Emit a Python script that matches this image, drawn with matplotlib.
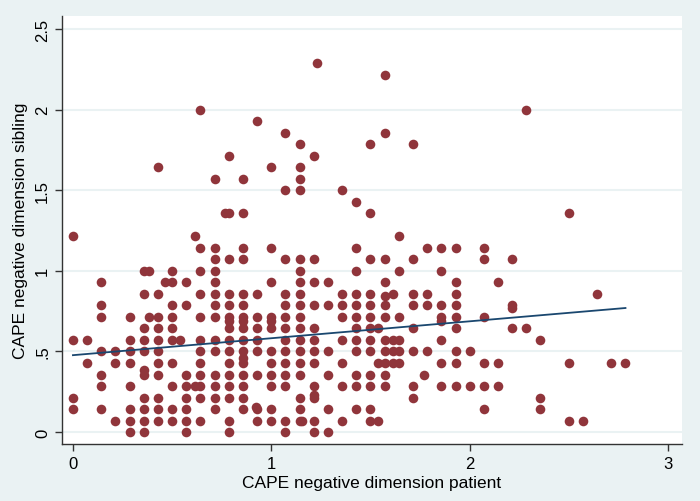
import numpy as np
import matplotlib
matplotlib.use("Agg")
import matplotlib.pyplot as plt

# CAPE negative dimension scores
patient = ([0.0]*4 + [0.071]*2 + [0.143]*7 + [0.214]*3 + [0.286]*8
           + [0.357]*11 + [0.385]*2 + [0.429]*11 + [0.462]*1 + [0.5]*10
           + [0.538]*1 + [0.571]*8 + [0.615]*2 + [0.643]*12 + [0.714]*14
           + [0.769]*1 + [0.786]*16 + [0.857]*17 + [0.923]*1 + [0.929]*9
           + [1.0]*12 + [1.071]*14 + [1.143]*18 + [1.154]*1 + [1.214]*13
           + [1.231]*1 + [1.286]*6 + [1.357]*8 + [1.429]*12 + [1.5]*13
           + [1.538]*3 + [1.571]*12 + [1.615]*4 + [1.643]*6 + [1.714]*8
           + [1.769]*1 + [1.786]*4 + [1.857]*8 + [1.929]*9 + [2.0]*2
           + [2.071]*6 + [2.143]*3 + [2.214]*4 + [2.286]*2 + [2.357]*3
           + [2.5]*3 + [2.571]*1 + [2.643]*1 + [2.714]*1 + [2.786]*1)

sibling = [
    1.214, 0.571, 0.214, 0.143,
    0.571, 0.429,
    0.929, 0.786, 0.714, 0.5, 0.357, 0.286, 0.143,
    0.5, 0.429, 0.071,
    0.714, 0.571, 0.5, 0.429, 0.286, 0.143, 0.071, 0.0,
    1.0, 0.857, 0.643, 0.571, 0.5, 0.385, 0.357, 0.214, 0.143, 0.071, 0.0,
    1.0, 0.714,
    1.643, 0.857, 0.714, 0.643, 0.571, 0.5, 0.429, 0.357, 0.214, 0.143, 0.071,
    0.929,
    1.0, 0.929, 0.786, 0.714, 0.643, 0.571, 0.429, 0.286, 0.143, 0.071,
    0.571,
    0.929, 0.786, 0.357, 0.286, 0.214, 0.143, 0.071, 0.0,
    1.214, 0.286,
    2.0, 1.143, 1.0, 0.857, 0.714, 0.571, 0.5, 0.429, 0.357, 0.286, 0.214, 0.071,
    1.571, 1.143, 1.071, 1.0, 0.929, 0.857, 0.786, 0.714, 0.571, 0.5, 0.357, 0.286, 0.214, 0.143,
    1.357,
    1.714, 1.357, 1.071, 0.857, 0.786, 0.714, 0.692, 0.643, 0.571, 0.5, 0.429, 0.357, 0.286, 0.214, 0.071, 0.0,
    1.571, 1.357, 1.143, 1.071, 0.857, 0.786, 0.714, 0.692, 0.643, 0.571, 0.5, 0.462, 0.429, 0.357, 0.286, 0.214, 0.143,
    0.154,
    1.929, 0.857, 0.714, 0.643, 0.571, 0.5, 0.357, 0.143, 0.071,
    1.643, 1.143, 0.929, 0.714, 0.692, 0.643, 0.5, 0.429, 0.357, 0.286, 0.143, 0.071,
    1.857, 1.5, 1.071, 0.857, 0.786, 0.714, 0.643, 0.571, 0.5, 0.429, 0.357, 0.286, 0.071, 0.0,
    1.786, 1.643, 1.571, 1.5, 1.071, 1.0, 0.929, 0.857, 0.786, 0.714, 0.643, 0.571, 0.5, 0.429, 0.357, 0.214, 0.143, 0.071,
    0.071,
    1.714, 1.071, 0.929, 0.786, 0.643, 0.571, 0.5, 0.429, 0.286, 0.231, 0.214, 0.071, 0.0,
    2.286,
    0.929, 0.786, 0.5, 0.357, 0.143, 0.0,
    1.5, 0.857, 0.786, 0.714, 0.571, 0.429, 0.286, 0.071,
    1.429, 1.143, 1.0, 0.857, 0.786, 0.714, 0.643, 0.571, 0.5, 0.357, 0.286, 0.143,
    1.786, 1.357, 1.071, 0.857, 0.786, 0.714, 0.643, 0.571, 0.5, 0.357, 0.286, 0.143, 0.071,
    0.643, 0.429, 0.071,
    2.214, 1.857, 1.071, 0.929, 0.846, 0.786, 0.714, 0.571, 0.5, 0.429, 0.357, 0.286,
    0.857, 0.571, 0.5, 0.429,
    1.214, 1.0, 0.714, 0.571, 0.5, 0.429,
    1.786, 1.071, 0.857, 0.786, 0.643, 0.5, 0.286, 0.214,
    0.357,
    1.143, 0.857, 0.786, 0.5,
    1.143, 1.0, 0.786, 0.714, 0.692, 0.571, 0.429, 0.286,
    1.143, 0.929, 0.857, 0.786, 0.714, 0.643, 0.5, 0.429, 0.286,
    0.5, 0.286,
    1.143, 1.071, 0.714, 0.429, 0.286, 0.143,
    0.929, 0.429, 0.286,
    1.071, 0.786, 0.769, 0.643,
    2.0, 0.643,
    0.571, 0.214, 0.143,
    1.357, 0.429, 0.071,
    0.071,
    0.857,
    0.429,
    0.429,
]

# fitted line as shown (overlapping points hide some of the data)
fit_intercept = 0.477
fit_slope = 0.105

x_ticks = [0, 1, 2, 3]
y_ticks = [0, 0.5, 1, 1.5, 2, 2.5]
y_labels = ["0", ".5", "1", "1.5", "2", "2.5"]

plt.rcParams['font.family'] = ['Liberation Sans', 'DejaVu Sans']

bg = '#EAF2F3'
fig = plt.figure(figsize=(7, 5.02), dpi=100, facecolor=bg)
ax = fig.add_axes([0.0886, 0.1135, 0.8854, 0.8525])
ax.set_facecolor('white')

x = np.array(patient)
y = np.array(sibling)
ax.scatter(x, y, s=48, color='#90353B', linewidths=0, zorder=3)

xs = np.array([x.min(), x.max()])
ax.plot(xs, fit_intercept + fit_slope * xs, color='#1A476F', lw=1.3, zorder=4)

ax.set_xlim(-0.055, 3.07)
ax.set_ylim(-0.074, 2.58)
ax.set_xticks(x_ticks)
ax.set_yticks(y_ticks)
ax.set_yticklabels(y_labels, rotation=90, va='center')
ax.yaxis.grid(True, color=bg, lw=1.5, zorder=0)
ax.set_axisbelow(True)

for s in ['top', 'right']:
    ax.spines[s].set_visible(False)
for s in ['left', 'bottom']:
    ax.spines[s].set_color('#333333')
    ax.spines[s].set_linewidth(1.0)
ax.tick_params(direction='out', length=5, width=1, colors='#333333',
               labelsize=12, labelcolor='black')

ax.set_xlabel('CAPE negative dimension patient', fontsize=12.5, labelpad=3)
ax.set_ylabel('CAPE negative dimension sibling', fontsize=12.5, labelpad=5)

fig.savefig('out.png', dpi=100, facecolor=bg)
